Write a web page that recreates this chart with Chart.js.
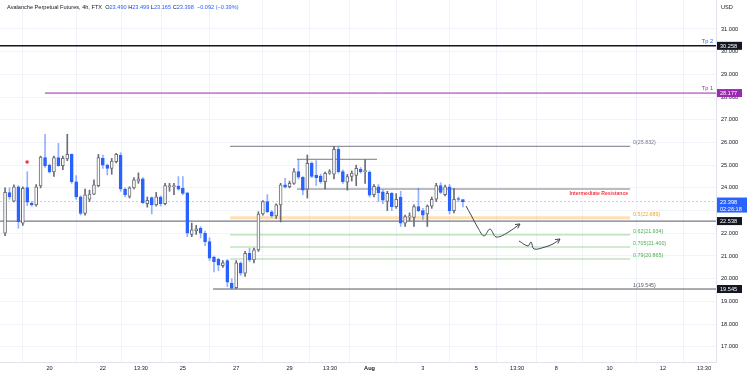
<!DOCTYPE html>
<html>
<head>
<meta charset="utf-8">
<script src="https://cdn.jsdelivr.net/npm/chart.js@4.4.0/dist/chart.umd.min.js"></script>
<style>
  html, body { margin: 0; padding: 0; background: #fff; }
  #wrap { width: 750px; height: 375px; }
</style>
</head>
<body>
<div id="wrap"><canvas id="chart" width="750" height="375"></canvas></div>
<script>
// 4h candles, first bar opens 18 Jul 08:00. x axis counts days (1 Aug = 32)
const firstBarDay = 18 + 8 / 24;
const barStep = 4 / 24;

const opens = [22.0, 23.79, 23.42, 24.05, 22.45, 24.01, 23.33, 23.25, 24.09, 25.33,
  25.0, 24.7, 25.33, 24.98, 25.28, 25.48, 24.27, 23.61, 22.88, 23.5,
  23.72, 24.1, 25.3, 25.0, 24.86, 25.15, 25.45, 23.95, 23.62, 24.0,
  24.3, 24.4, 23.3, 23.57, 23.25, 23.6, 23.3, 24.05, 24.05, 24.08,
  23.98, 23.78, 21.95, 22.1, 22.22, 22.0, 21.63, 20.95, 20.85, 20.57,
  20.8, 19.8, 19.6, 20.68, 20.24, 21.12, 20.83, 21.27, 22.85, 23.4,
  22.95, 22.76, 23.25, 24.13, 24.05, 24.2, 24.72, 24.47, 23.94, 25.08,
  24.55, 24.52, 24.27, 24.65, 24.6, 25.7, 24.72, 24.25, 24.5, 24.55,
  24.82, 24.72, 24.7, 23.7, 24.05, 23.83, 23.4, 23.76, 23.17, 23.6,
  22.45, 22.72, 22.7, 23.18, 23.0, 22.85, 23.2, 23.5, 24.1, 23.7,
  24.05, 23.0, 23.52, 23.49];
const highs = [24.0, 24.0, 24.13, 24.1, 24.05, 24.71, 23.4, 24.15, 25.4, 26.36,
  25.05, 25.4, 25.96, 25.4, 26.36, 25.5, 24.54, 23.65, 23.95, 23.9,
  24.35, 25.48, 25.45, 25.05, 25.3, 25.52, 25.55, 24.0, 24.05, 24.45,
  24.66, 24.45, 23.6, 23.6, 23.8, 23.65, 24.2, 24.2, 24.2, 24.5,
  24.5, 23.8, 22.45, 22.35, 22.3, 22.1, 21.8, 21.0, 20.9, 20.8,
  20.85, 20.0, 20.8, 20.75, 21.2, 21.34, 21.35, 22.95, 23.44, 23.7,
  23.0, 23.3, 24.2, 24.42, 24.3, 24.85, 25.23, 24.5, 25.45, 25.15,
  25.2, 24.6, 24.7, 24.8, 25.832, 25.8, 24.8, 24.6, 24.75, 25.0,
  24.9, 25.25, 24.75, 24.15, 24.15, 23.9, 23.85, 23.8, 23.75, 23.85,
  22.8, 22.9, 23.25, 23.98, 23.1, 23.25, 23.6, 24.2, 24.23, 24.12,
  24.15, 23.98, 23.6, 23.499];
const lows = [21.9, 23.5, 23.38, 22.22, 22.35, 23.22, 23.2, 23.2, 24.0, 24.9,
  24.65, 24.5, 24.95, 24.8, 25.2, 24.2, 23.5, 22.81, 22.8, 23.4,
  23.7, 24.05, 24.86, 24.57, 24.6, 25.1, 23.85, 23.6, 23.55, 23.95,
  24.2, 23.3, 23.15, 22.85, 23.2, 23.2, 23.25, 23.85, 23.7, 23.9,
  23.7, 21.85, 21.85, 21.95, 21.8, 21.45, 20.8, 20.3, 20.35, 20.5,
  19.65, 19.545, 19.56, 20.15, 20.1, 20.75, 20.7, 21.2, 22.8, 22.9,
  22.7, 22.65, 22.5, 24.0, 24.0, 24.15, 24.4, 23.7, 23.55, 24.45,
  24.1, 24.2, 23.95, 24.6, 24.4, 24.65, 24.2, 23.9, 24.3, 24.1,
  24.65, 24.2, 23.6, 23.6, 23.4, 23.3, 23.0, 23.0, 23.1, 22.3,
  22.3, 22.55, 22.3, 22.95, 22.6, 22.3, 23.1, 23.4, 23.75, 23.65,
  22.85, 22.9, 23.4, 23.165];
const closes = [23.8, 23.61, 24.05, 22.51, 23.98, 23.37, 23.25, 24.05, 25.36, 24.97,
  24.7, 25.33, 24.98, 25.3, 25.48, 24.27, 23.6, 22.88, 23.69, 23.73,
  24.13, 25.33, 25.0, 24.86, 25.18, 25.48, 23.95, 23.7, 24.0, 24.35,
  24.4, 23.35, 23.45, 23.25, 23.61, 23.3, 24.1, 24.1, 24.1, 23.94,
  23.76, 22.0, 22.15, 22.2, 22.0, 21.63, 20.9, 20.75, 20.6, 20.7,
  19.85, 19.58, 20.7, 20.24, 21.12, 20.83, 21.27, 22.85, 23.4, 22.95,
  22.76, 23.25, 24.13, 24.03, 24.2, 24.72, 24.47, 23.9, 25.08, 24.5,
  24.45, 24.27, 24.64, 24.72, 25.7, 24.72, 24.27, 24.5, 24.65, 24.86,
  24.7, 24.75, 23.68, 24.07, 23.79, 23.46, 23.76, 23.17, 23.5, 22.45,
  22.74, 22.76, 23.18, 23.0, 22.8, 23.2, 23.5, 24.1, 23.8, 24.05,
  23.0, 23.5, 23.49, 23.398];

const xTickDays = [20, 22, 23.43, 25, 27, 29, 30.52, 32, 34, 36, 37.53, 39, 41, 43, 44.54];
const xTickLabels = ['20', '22', '13:30', '25', '27', '29', '13:30', 'Aug', '3', '5', '13:30', '8', '10', '12', '13:30'];
const yTicks = [17, 18, 19, 20, 21, 22, 23, 24, 25, 26, 27, 28, 29, 30, 31];

// drawn levels
const fibLevels = ['0', '0.5', '0.62', '0.705', '0.79', '1'];
const fibPrices = [25.832, 22.689, 21.934, 21.400, 20.865, 19.545];
const tp1 = 28.177;
const tp2 = 30.258;
const support = 22.538;
const resistance = 23.95;
const rangeTop = 25.26;
const lastPrice = 23.398;
const countdown = '02:26:18';

// hand drawn projection paths (day, price)
const path1Days = [35.617, 35.804, 36.067, 36.292, 36.517, 36.742, 37.154, 37.641];
const path1Prices = [23.203, 22.806, 22.233, 21.881, 22.189, 21.837, 22.013, 22.41];
const path2Days = [37.604, 37.941, 38.054, 38.166, 38.579, 38.879, 39.141];
const path2Prices = [21.661, 21.441, 21.617, 21.308, 21.396, 21.529, 21.749];
const markerDay = 19.16;
const markerPrice = 25.14;

const X_MIN = 18.144, X_MAX = 44.99;
const Y_MIN = 16.33, Y_MAX = 32.277;
const FIB_START = 26.77, FIB_END = 41.77;

const BLUE = '#2962ff';
const GREY = '#6a6d78';
const FONT = '"Liberation Sans", Arial, sans-serif';

const times = opens.map((_, i) => firstBarDay + i * barStep);
const isUp = opens.map((o, i) => closes[i] >= o);

const hLine = (x0, x1, p, color, width, dash) => ({
    type: 'line',
    data: [{ x: x0, y: p }, { x: x1, y: p }],
    borderColor: color,
    borderWidth: width,
    borderDash: dash || [],
    pointRadius: 0,
    order: 5
});

const fibColors = ['#787b86', 'rgba(255,152,0,0.3)', 'rgba(76,175,80,0.35)', 'rgba(76,175,80,0.35)', 'rgba(76,175,80,0.35)', '#555862'];
const fibTextColors = ['#787b86', '#f7a21b', '#4caf50', '#4caf50', '#4caf50', '#555862'];
const fibWidths = [1, 3, 1.5, 1.5, 1.5, 1];

const datasets = [
    {
        type: 'bar',
        data: times.map((t, i) => ({ x: t, y: [lows[i], highs[i]] })),
        backgroundColor: isUp.map(u => u ? GREY : 'rgba(41,98,255,0.5)'),
        barThickness: 1,
        grouped: false,
        order: 2
    },
    {
        type: 'bar',
        data: times.map((t, i) => ({ x: t, y: [opens[i], closes[i]] })),
        backgroundColor: isUp.map(u => u ? '#ffffff' : BLUE),
        borderColor: isUp.map(u => u ? GREY : BLUE),
        borderWidth: 1,
        borderSkipped: false,
        barThickness: 3,
        minBarLength: 1,
        grouped: false,
        order: 1
    },
    hLine(X_MIN, X_MAX, tp2, '#131722', 1.5),
    hLine(19.83, X_MAX, tp1, '#9c27b0', 1),
    hLine(X_MIN, X_MAX, support, '#787b86', 1.2),
    hLine(X_MIN, X_MAX, lastPrice, 'rgba(41,98,255,0.3)', 1, [2, 2]),
    hLine(29.28, 32.28, rangeTop, '#787b86', 1),
    hLine(29.28, FIB_END, resistance, '#787b86', 1),
    hLine(26.13, X_MAX, fibPrices[5], '#555862', 1),
    ...fibPrices.slice(0, 5).map((p, i) => hLine(FIB_START, FIB_END, p, fibColors[i], fibWidths[i])),
    {
        type: 'line',
        data: path1Days.map((d, i) => ({ x: d, y: path1Prices[i] })),
        borderColor: '#434651',
        borderWidth: 1,
        tension: 0.35,
        pointRadius: 0,
        arrow: true,
        order: 0
    },
    {
        type: 'line',
        data: path2Days.map((d, i) => ({ x: d, y: path2Prices[i] })),
        borderColor: '#434651',
        borderWidth: 1,
        tension: 0.35,
        pointRadius: 0,
        arrow: true,
        order: 0
    },
    {
        type: 'scatter',
        data: [{ x: markerDay, y: markerPrice }],
        backgroundColor: '#f23645',
        pointRadius: 1.8,
        pointBorderWidth: 0,
        order: 0
    }
];

const overlay = {
    id: 'overlay',
    afterDatasetsDraw(chart) {
        const ctx = chart.ctx;
        // arrow heads on the projection paths
        chart.data.datasets.forEach((ds, di) => {
            if (!ds.arrow) return;
            const pts = chart.getDatasetMeta(di).data;
            const a = pts[pts.length - 2], b = pts[pts.length - 1];
            const ang = Math.atan2(b.y - a.y, b.x - a.x);
            ctx.save();
            ctx.strokeStyle = ds.borderColor;
            ctx.lineWidth = 1;
            ctx.beginPath();
            ctx.moveTo(b.x - 5 * Math.cos(ang - 0.5), b.y - 5 * Math.sin(ang - 0.5));
            ctx.lineTo(b.x, b.y);
            ctx.lineTo(b.x - 5 * Math.cos(ang + 0.5), b.y - 5 * Math.sin(ang + 0.5));
            ctx.stroke();
            ctx.restore();
        });
    },
    afterDraw(chart) {
        const { ctx, scales: { x, y } } = chart;
        ctx.save();
        ctx.textBaseline = 'alphabetic';

        // title line
        const chg = lastPrice - closes[closes.length - 2];
        const pct = chg / closes[closes.length - 2] * 100;
        const fmt = v => (v < 0 ? '\u2212' : '') + Math.abs(v).toFixed(3);
        const parts = [
            ['Avalanche Perpetual Futures, 4h, FTX  ', '#131722'],
            ['O', '#131722'], [opens[opens.length - 1].toFixed(3), BLUE],
            [' H', '#131722'], [highs[highs.length - 1].toFixed(3), BLUE],
            [' L', '#131722'], [lows[lows.length - 1].toFixed(3), BLUE],
            [' C', '#131722'], [closes[closes.length - 1].toFixed(3), BLUE],
            ['  ' + fmt(chg) + ' (' + (pct < 0 ? '\u2212' : '') + Math.abs(pct).toFixed(2) + '%)', BLUE]
        ];
        ctx.font = '5.6px ' + FONT;
        let tx = 7;
        parts.forEach(([t, c]) => {
            ctx.fillStyle = c;
            ctx.fillText(t, tx, 9);
            tx += ctx.measureText(t).width;
        });

        // fib labels
        ctx.font = '5.3px ' + FONT;
        fibPrices.forEach((p, i) => {
            ctx.fillStyle = fibTextColors[i];
            ctx.textAlign = 'left';
            ctx.fillText(fibLevels[i] + '(' + p.toFixed(3) + ')', x.getPixelForValue(FIB_END) + 3, y.getPixelForValue(p) - 2);
        });

        ctx.font = 'bold 5.1px ' + FONT;
        ctx.fillStyle = '#f23645';
        ctx.textAlign = 'right';
        ctx.fillText('Intermediate Resistance', x.getPixelForValue(FIB_END) - 2, y.getPixelForValue(resistance) + 6);

        ctx.font = '5.6px ' + FONT;
        ctx.fillStyle = BLUE;
        ctx.fillText('Tp 2', 713, y.getPixelForValue(tp2) - 3);
        ctx.fillStyle = '#9c27b0';
        ctx.fillText('Tp 1', 713, y.getPixelForValue(tp1) - 3);

        // price tags on the axis
        ctx.textAlign = 'left';
        ctx.font = '5.6px ' + FONT;
        const tag = (p, bg, text) => {
            const py = y.getPixelForValue(p);
            ctx.fillStyle = bg;
            ctx.fillRect(717, py - 4, 25, 8);
            ctx.fillStyle = '#ffffff';
            ctx.fillText(text, 720, py + 2);
        };
        tag(tp2, '#131722', tp2.toFixed(3));
        tag(tp1, '#9c27b0', tp1.toFixed(3));
        tag(support, '#131722', support.toFixed(3));
        tag(fibPrices[5], '#131722', fibPrices[5].toFixed(3));
        const lp = y.getPixelForValue(lastPrice);
        ctx.fillStyle = BLUE;
        ctx.fillRect(717, lp - 4, 30, 15);
        ctx.fillStyle = '#ffffff';
        ctx.fillText(lastPrice.toFixed(3), 720, lp + 2);
        ctx.fillText(countdown, 720, lp + 9);

        ctx.fillStyle = '#131722';
        ctx.fillText('USD', 721, 9);
        ctx.restore();
    }
};

new Chart(document.getElementById('chart'), {
    type: 'bar',
    data: { datasets },
    options: {
        responsive: false,
        animation: false,
        devicePixelRatio: 1,
        layout: { padding: 0, autoPadding: false },
        plugins: { legend: { display: false }, tooltip: { enabled: false } },
        scales: {
            x: {
                type: 'linear',
                min: X_MIN,
                max: X_MAX,
                offset: false,
                grid: { color: '#f0f3fa', drawTicks: false },
                border: { color: '#e0e3eb' },
                afterBuildTicks: s => { s.ticks = xTickDays.map(v => ({ value: v })); },
                afterFit: s => { s.height = 13; s.paddingLeft = 0; s.paddingRight = 0; },
                ticks: {
                    autoSkip: false,
                    maxRotation: 0,
                    padding: 3,
                    color: '#131722',
                    font: c => ({ size: 5.6, family: FONT, weight: xTickLabels[c.index] === 'Aug' ? 'bold' : 'normal' }),
                    callback: (v, i) => xTickLabels[i]
                }
            },
            y: {
                type: 'linear',
                position: 'right',
                min: Y_MIN,
                max: Y_MAX,
                grid: { color: '#f0f3fa', drawTicks: false },
                border: { color: '#e0e3eb' },
                afterBuildTicks: s => { s.ticks = yTicks.map(v => ({ value: v })); },
                afterFit: s => { s.width = 34; s.paddingTop = 0; s.paddingBottom = 0; },
                ticks: {
                    padding: 5,
                    color: '#131722',
                    font: { size: 5.6, family: FONT },
                    callback: v => v.toFixed(3)
                }
            }
        }
    },
    plugins: [overlay]
});
</script>
</body>
</html>
